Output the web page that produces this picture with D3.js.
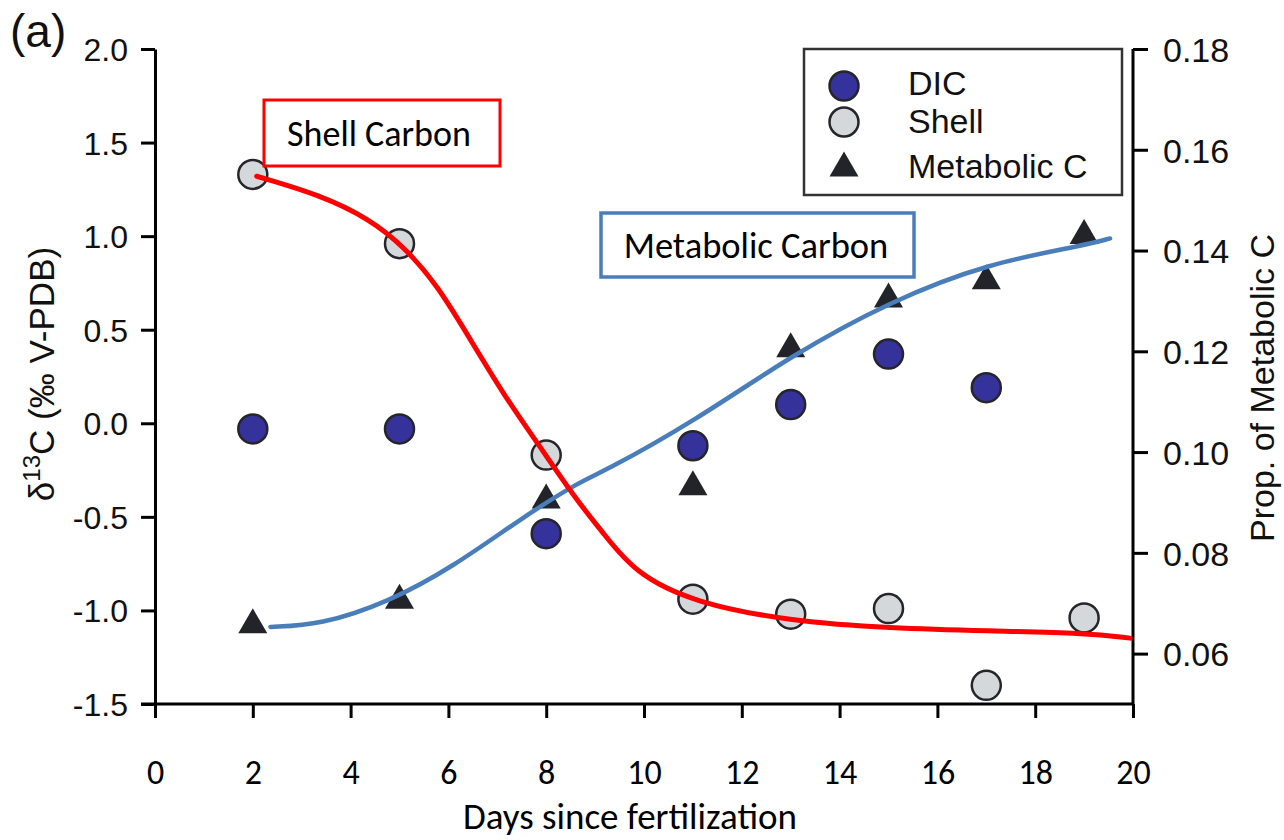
<!DOCTYPE html>
<html>
<head>
<meta charset="utf-8">
<script src="https://cdn.jsdelivr.net/npm/d3@7"></script>
<style>
  html, body { margin: 0; padding: 0; background: #fff; }
  svg { display: block; }
  .arial { font-family: "Liberation Sans", Arial, Helvetica, sans-serif; }
  .calibri { font-family: Calibri, Carlito, Lato, sans-serif; }
</style>
</head>
<body>
<svg width="1284" height="840"></svg>
<script>
const days = [2, 5, 8, 11, 13, 15, 17, 19];
const dicDays = [2, 5, 8, 11, 13, 15, 17];
const dicValues = [-0.03, -0.03, -0.59, -0.12, 0.10, 0.37, 0.19];
const shellValues = [1.33, 0.96, -0.17, -0.94, -1.02, -0.99, -1.40, -1.04];
const metabolicValues = [0.0665, 0.0714, 0.0913, 0.0939, 0.1213, 0.1312, 0.1348, 0.1438];

// fitted curves
const shellFitDays = [2.08, 3.38, 4.40, 5.09, 5.77, 6.45, 7.13, 7.82, 8.64, 9.12, 9.80, 11.03, 13.03, 15.03, 17.04, 19.04, 19.94];
const shellFitValues = [1.32, 1.22, 1.09, 0.944, 0.74, 0.447, 0.153, -0.105, -0.418, -0.57, -0.80, -0.96, -1.059, -1.095, -1.11, -1.12, -1.148];
const metaFitDays = [2.36, 3.38, 4.75, 6.11, 7.48, 8.71, 9.12, 11.03, 13.03, 15.03, 17.04, 19.04, 19.53];
const metaFitValues = [0.0653, 0.0657, 0.0701, 0.0773, 0.0868, 0.0943, 0.0958, 0.1061, 0.1193, 0.1299, 0.1375, 0.1411, 0.1424];

// axes
const xTicks = [0, 2, 4, 6, 8, 10, 12, 14, 16, 18, 20];
const leftTicks = [-1.5, -1.0, -0.5, 0.0, 0.5, 1.0, 1.5, 2.0];
const rightTicks = [0.06, 0.08, 0.10, 0.12, 0.14, 0.16, 0.18];
const legendLabels = ["DIC", "Shell", "Metabolic C"];

const svg = d3.select("svg");

const x = d3.scaleLinear().domain([0, 20]).range([155, 1133]);
const yL = d3.scaleLinear().domain([-1.5, 2.0]).range([704, 49]);
const yR = d3.scaleLinear().domain([0.05, 0.18]).range([704, 49]);

const dicColor = "#35339b";
const shellColor = "#d5d8db";
const triColor = "#23232a";
const markerStroke = "#25252b";

// triangle marker, ~29 wide x 25 tall, centred on the point
const triPath = "M0,-12.5L14.5,12.5L-14.5,12.5Z";

// ---- axes ----
function styleAxis(g) {
  g.select(".domain").attr("stroke", "#000").attr("stroke-width", 3);
  g.selectAll(".tick line").attr("stroke", "#000").attr("stroke-width", 3);
}

const gLeft = svg.append("g")
  .attr("transform", "translate(" + x(0) + ",0)")
  .call(d3.axisLeft(yL).tickValues(leftTicks).tickFormat((d) => d.toFixed(1)).tickSize(14).tickSizeOuter(0));
styleAxis(gLeft);
gLeft.selectAll(".tick text")
  .attr("class", "arial")
  .attr("font-size", 32)
  .attr("fill", "#111")
  .attr("x", -27)
  .attr("dy", "0.36em");

const gRight = svg.append("g")
  .attr("transform", "translate(" + x(20) + ",0)")
  .call(d3.axisRight(yR).tickValues(rightTicks).tickFormat((d) => d.toFixed(2)).tickSize(15).tickSizeOuter(0));
styleAxis(gRight);
gRight.select(".domain").attr("d", "M0," + yR(0.18) + "V" + yR(0.05));
gRight.selectAll(".tick text")
  .attr("class", "arial")
  .attr("font-size", 34)
  .attr("fill", "#111")
  .attr("x", 30)
  .attr("dy", "0.36em");

const gBottom = svg.append("g")
  .attr("transform", "translate(0," + yL(-1.5) + ")")
  .call(d3.axisBottom(x).tickValues(xTicks).tickFormat(d3.format("d")).tickSize(14).tickSizeOuter(0));
styleAxis(gBottom);
gBottom.select(".domain").attr("d", "M" + (x(0) - 14) + ",0H" + x(20));
gBottom.selectAll(".tick text")
  .attr("class", "calibri")
  .attr("font-size", 34)
  .attr("fill", "#000")
  .attr("y", 80)
  .attr("dy", 0);

// axis titles
svg.append("text")
  .attr("class", "calibri")
  .attr("x", 630)
  .attr("y", 829)
  .attr("text-anchor", "middle")
  .attr("font-size", 37)
  .text("Days since fertilization");

const leftTitle = svg.append("text")
  .attr("class", "arial")
  .attr("transform", "translate(54,374) rotate(-90)")
  .attr("text-anchor", "middle")
  .attr("font-size", 35)
  .attr("fill", "#111");
leftTitle.append("tspan").text("δ");
leftTitle.append("tspan").attr("font-size", 24).attr("dy", -14).text("13");
leftTitle.append("tspan").attr("dy", 14).text("C (‰ V-PDB)");

svg.append("text")
  .attr("class", "arial")
  .attr("transform", "translate(1274,388) rotate(-90)")
  .attr("text-anchor", "middle")
  .attr("font-size", 34)
  .attr("fill", "#111")
  .text("Prop. of Metabolic C");

svg.append("text")
  .attr("class", "arial")
  .attr("x", 10)
  .attr("y", 47)
  .attr("font-size", 46)
  .attr("fill", "#111")
  .text("(a)");

// ---- markers ----
const plot = svg.append("g");

plot.selectAll(".dic")
  .data(dicDays.map((d, i) => ({ day: d, v: dicValues[i] })))
  .enter()
  .append("circle")
  .attr("cx", (d) => x(d.day))
  .attr("cy", (d) => yL(d.v))
  .attr("r", 14.5)
  .attr("fill", dicColor)
  .attr("stroke", markerStroke)
  .attr("stroke-width", 2.5);

plot.selectAll(".shell")
  .data(days.map((d, i) => ({ day: d, v: shellValues[i] })))
  .enter()
  .append("circle")
  .attr("cx", (d) => x(d.day))
  .attr("cy", (d) => yL(d.v))
  .attr("r", 14.5)
  .attr("fill", shellColor)
  .attr("stroke", markerStroke)
  .attr("stroke-width", 2.5);

plot.selectAll(".tri")
  .data(days.map((d, i) => ({ day: d, v: metabolicValues[i] })))
  .enter()
  .append("path")
  .attr("d", triPath)
  .attr("transform", (d) => "translate(" + x(d.day) + "," + yR(d.v) + ")")
  .attr("fill", triColor);

// ---- fitted curves ----
const shellLine = d3.line()
  .x((d) => x(d[0]))
  .y((d) => yL(d[1]))
  .curve(d3.curveBasis);

const metaLine = d3.line()
  .x((d) => x(d[0]))
  .y((d) => yR(d[1]))
  .curve(d3.curveBasis);

plot.append("path")
  .attr("d", metaLine(metaFitDays.map((d, i) => [d, metaFitValues[i]])))
  .attr("fill", "none")
  .attr("stroke", "#4a7ebb")
  .attr("stroke-width", 4.5)
  .attr("stroke-linecap", "round");

plot.append("path")
  .attr("d", shellLine(shellFitDays.map((d, i) => [d, shellFitValues[i]])))
  .attr("fill", "none")
  .attr("stroke", "#ff0000")
  .attr("stroke-width", 5)
  .attr("stroke-linecap", "round");

// ---- callout boxes ----
svg.append("rect")
  .attr("x", 264).attr("y", 100).attr("width", 236).attr("height", 66)
  .attr("fill", "#fff").attr("stroke", "#ff0000").attr("stroke-width", 3);
svg.append("text")
  .attr("class", "calibri")
  .attr("x", 379).attr("y", 146)
  .attr("text-anchor", "middle")
  .attr("font-size", 36)
  .text("Shell Carbon");

svg.append("rect")
  .attr("x", 601).attr("y", 213).attr("width", 313).attr("height", 64)
  .attr("fill", "#fff").attr("stroke", "#4a7ebb").attr("stroke-width", 3.5);
svg.append("text")
  .attr("class", "calibri")
  .attr("x", 756).attr("y", 258)
  .attr("text-anchor", "middle")
  .attr("font-size", 36.5)
  .text("Metabolic Carbon");

// ---- legend ----
const legend = svg.append("g");
legend.append("rect")
  .attr("x", 804).attr("y", 49).attr("width", 318).attr("height", 146)
  .attr("fill", "#fff").attr("stroke", "#333").attr("stroke-width", 2.5);

const legendMarkY = { "DIC": 86, "Shell": 122, "Metabolic C": 164 };
const legendBase = { "DIC": 95, "Shell": 133, "Metabolic C": 178 };

legendLabels.forEach((name) => {
  if (name === "Metabolic C") {
    legend.append("path")
      .attr("d", triPath)
      .attr("transform", "translate(844," + legendMarkY[name] + ")")
      .attr("fill", triColor);
  } else {
    legend.append("circle")
      .attr("cx", 844)
      .attr("cy", legendMarkY[name])
      .attr("r", 14.5)
      .attr("fill", name === "DIC" ? dicColor : shellColor)
      .attr("stroke", markerStroke)
      .attr("stroke-width", 2.5);
  }
  legend.append("text")
    .attr("class", "arial")
    .attr("x", 908)
    .attr("y", legendBase[name])
    .attr("font-size", 34)
    .attr("fill", "#111")
    .text(name);
});
</script>
</body>
</html>
